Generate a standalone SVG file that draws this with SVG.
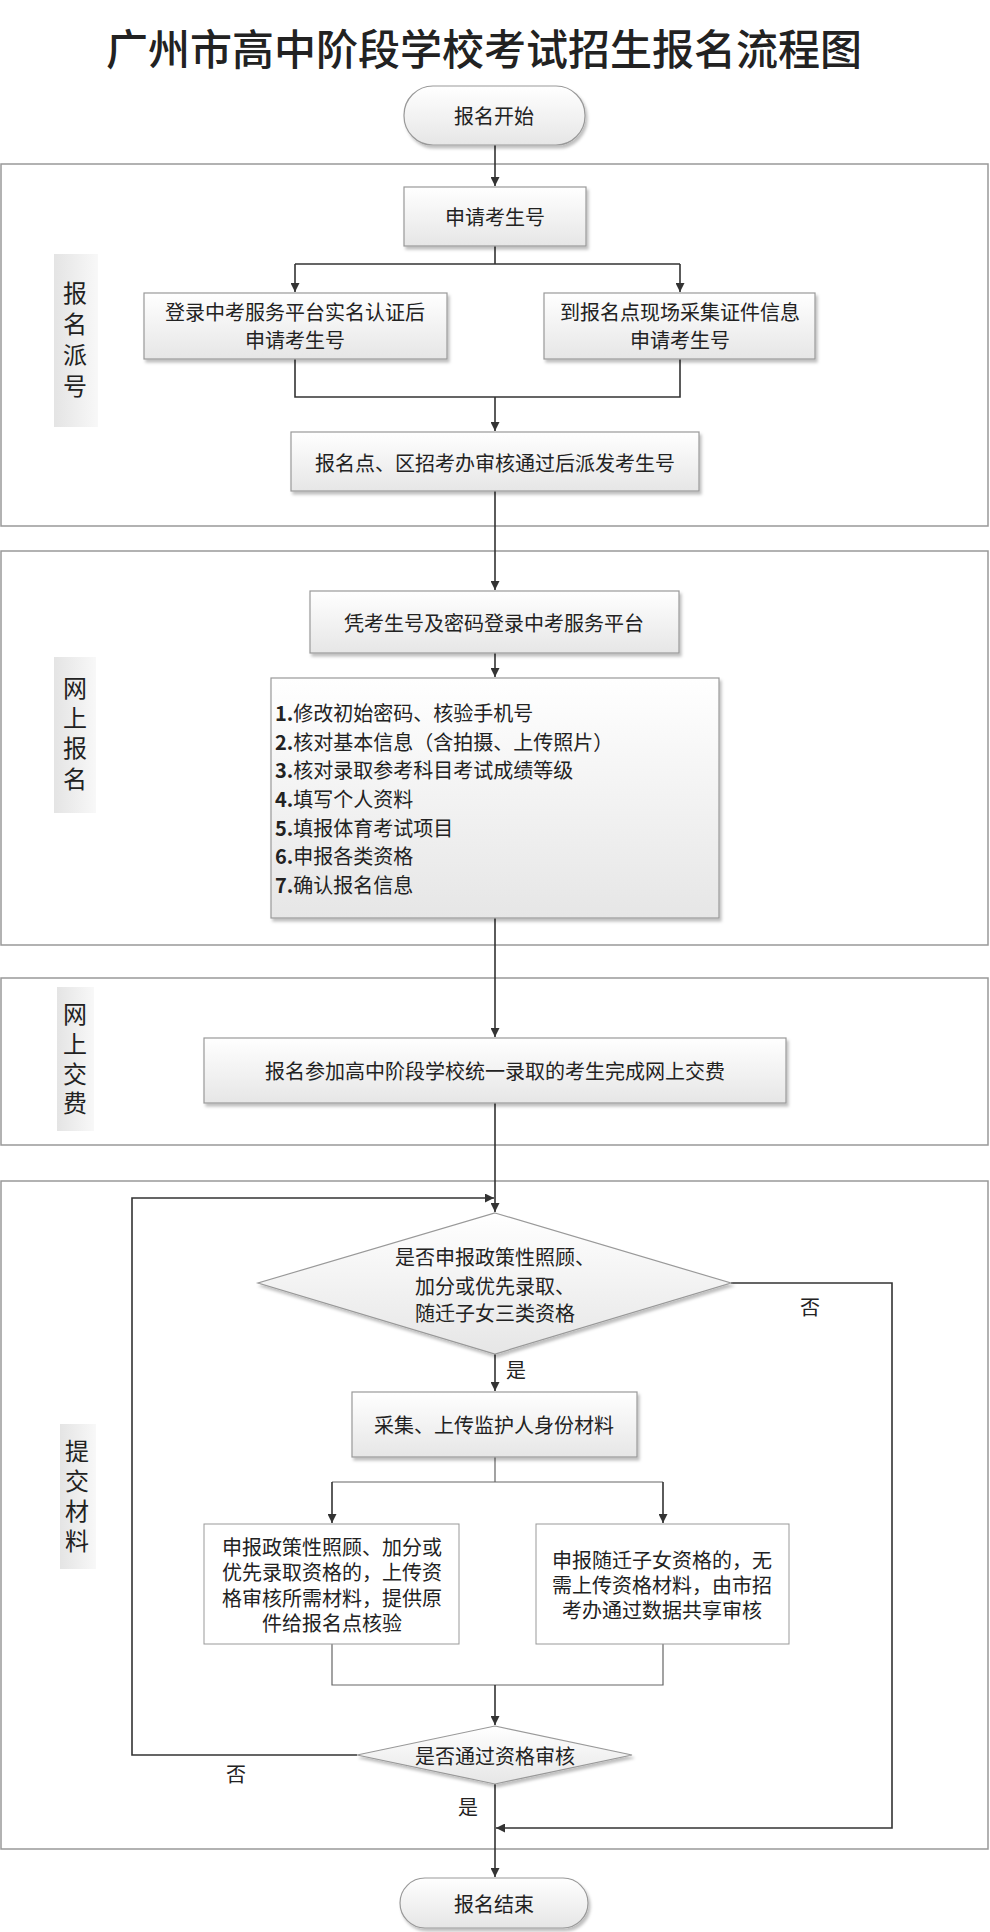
<svg xmlns="http://www.w3.org/2000/svg" width="990" height="1932" viewBox="0 0 990 1932">
<defs>
<linearGradient id="g" x1="0" y1="0" x2="0" y2="1"><stop offset="0" stop-color="#ffffff"/><stop offset="1" stop-color="#e6e6e6"/></linearGradient>
<linearGradient id="gl" x1="0" y1="0" x2="1" y2="0"><stop offset="0" stop-color="#e4e4e4"/><stop offset="1" stop-color="#f8f8f8"/></linearGradient>
<filter id="sh" x="-5%" y="-5%" width="115%" height="125%"><feDropShadow dx="2" dy="3" stdDeviation="1.5" flood-color="#000" flood-opacity="0.25"/></filter>
<marker id="a" viewBox="0 0 10 10" refX="10" refY="5" markerWidth="9" markerHeight="9" markerUnits="userSpaceOnUse" orient="auto"><path d="M0,0 L10,5 L0,10 z" fill="#333"/></marker>
<style>
text{font-family:"Noto Sans CJK SC","Noto Sans",sans-serif;fill:#222;}
.t{font-size:20px;text-anchor:middle;dominant-baseline:central;}
.l{font-size:20px;dominant-baseline:central;}
.lab{font-size:24px;text-anchor:middle;dominant-baseline:central;}
.box{fill:url(#g);stroke:#999;stroke-width:1.2;filter:url(#sh);}
.sec{fill:#fff;stroke:#999;stroke-width:1.5;}
.side{fill:url(#gl);}
.c{fill:none;stroke:#333;stroke-width:1.6;}
</style>
</defs>
<rect width="990" height="1932" fill="#fff"/>
<text x="484" y="46" style="font-size:42px;text-anchor:middle;dominant-baseline:central;font-weight:500">广州市高中阶段学校考试招生报名流程图</text>

<g id="sections">
<rect class="sec" x="1" y="164" width="987" height="362"/>
<rect class="sec" x="1" y="551" width="987" height="394"/>
<rect class="sec" x="1" y="978" width="987" height="167"/>
<rect class="sec" x="1" y="1181" width="987" height="668"/>
</g>
<g id="lane1"><rect class="side" x="54" y="254" width="44" height="173"/><text class="lab" x="75" y="291">报</text><text class="lab" x="75" y="322">名</text><text class="lab" x="75" y="353">派</text><text class="lab" x="75" y="384">号</text></g>
<g id="lane2"><rect class="side" x="54" y="657" width="42" height="156"/><text class="lab" x="75" y="686">网</text><text class="lab" x="75" y="716">上</text><text class="lab" x="75" y="746">报</text><text class="lab" x="75" y="777">名</text></g>
<g id="lane3"><rect class="side" x="57" y="987" width="37" height="144"/><text class="lab" x="75" y="1012">网</text><text class="lab" x="75" y="1042">上</text><text class="lab" x="75" y="1072">交</text><text class="lab" x="75" y="1101">费</text></g>
<g id="lane4"><rect class="side" x="60" y="1424" width="36" height="145"/><text class="lab" x="77" y="1449">提</text><text class="lab" x="77" y="1479">交</text><text class="lab" x="77" y="1509">材</text><text class="lab" x="77" y="1539">料</text></g>

<g id="connectors">
<path class="c" d="M495,145 V186" marker-end="url(#a)"/>
<path class="c" d="M495,246 V264 M295,264 H680"/>
<path class="c" d="M295,264 V292" marker-end="url(#a)"/>
<path class="c" d="M680,264 V292" marker-end="url(#a)"/>
<path class="c" d="M295,359 V397 H680 V359 M495,397 V431" marker-end="url(#a)"/>
<path class="c" d="M495,491 V590" marker-end="url(#a)"/>
<path class="c" d="M495,653 V677" marker-end="url(#a)"/>
<path class="c" d="M495,918 V1037" marker-end="url(#a)"/>
<path class="c" d="M495,1103 V1212" marker-end="url(#a)"/>
<path class="c" d="M495,1354 V1391" marker-end="url(#a)"/>
<path class="c" d="M495,1457 V1482 M332,1482 H663" style="stroke:#666;stroke-width:1.2"/>
<path class="c" d="M332,1482 V1523" marker-end="url(#a)"/>
<path class="c" d="M663,1482 V1523" marker-end="url(#a)"/>
<path class="c" d="M332,1644 V1685 H663 V1644" style="stroke:#666;stroke-width:1.2"/>
<path class="c" d="M495,1685 V1725" marker-end="url(#a)"/>
<path class="c" d="M357,1755 H132 V1198 H494" marker-end="url(#a)"/>
<path class="c" d="M731,1283 H892 V1828 H496" marker-end="url(#a)"/>
<path class="c" d="M495,1784 V1877" marker-end="url(#a)"/>
<text class="t" x="810" y="1306">否</text>
<text class="t" x="516" y="1369">是</text>
<text class="t" x="236" y="1773">否</text>
<text class="t" x="468" y="1806">是</text>
</g>

<g id="start"><rect class="box" x="404" y="86" width="181" height="59" rx="29"/><text class="t" x="494" y="115">报名开始</text></g>
<g id="apply"><rect class="box" x="404" y="187" width="182" height="59"/><text class="t" x="495" y="216">申请考生号</text></g>
<g id="online"><rect class="box" x="144" y="293" width="303" height="66"/><text class="t" x="295" y="311">登录中考服务平台实名认证后</text><text class="t" x="295" y="339">申请考生号</text></g>
<g id="onsite"><rect class="box" x="544" y="293" width="271" height="66"/><text class="t" x="680" y="311">到报名点现场采集证件信息</text><text class="t" x="680" y="339">申请考生号</text></g>
<g id="assign"><rect class="box" x="291" y="432" width="408" height="59"/><text class="t" x="495" y="462">报名点、区招考办审核通过后派发考生号</text></g>
<g id="login"><rect class="box" x="310" y="591" width="369" height="62"/><text class="t" x="494" y="622">凭考生号及密码登录中考服务平台</text></g>
<g id="steps"><rect class="box" x="271" y="678" width="448" height="240"/>
<text class="l" x="275" y="712"><tspan font-weight="bold">1.</tspan>修改初始密码、核验手机号</text>
<text class="l" x="275" y="741"><tspan font-weight="bold">2.</tspan>核对基本信息（含拍摄、上传照片）</text>
<text class="l" x="275" y="769"><tspan font-weight="bold">3.</tspan>核对录取参考科目考试成绩等级</text>
<text class="l" x="275" y="798"><tspan font-weight="bold">4.</tspan>填写个人资料</text>
<text class="l" x="275" y="827"><tspan font-weight="bold">5.</tspan>填报体育考试项目</text>
<text class="l" x="275" y="855"><tspan font-weight="bold">6.</tspan>申报各类资格</text>
<text class="l" x="275" y="884"><tspan font-weight="bold">7.</tspan>确认报名信息</text></g>
<g id="pay"><rect class="box" x="204" y="1038" width="582" height="65"/><text class="t" x="495" y="1070">报名参加高中阶段学校统一录取的考生完成网上交费</text></g>
<g id="d1"><polygon class="box" points="495,1213 731,1283 495,1354 258,1283"/><text class="t" x="495" y="1256">是否申报政策性照顾、</text><text class="t" x="495" y="1285">加分或优先录取、</text><text class="t" x="495" y="1312">随迁子女三类资格</text></g>
<g id="collect"><rect class="box" x="352" y="1392" width="285" height="65"/><text class="t" x="494" y="1424">采集、上传监护人身份材料</text></g>
<g id="policy"><rect x="204" y="1524" width="255" height="120" fill="#fff" stroke="#999"/><text class="t" x="332" y="1546">申报政策性照顾、加分或</text><text class="t" x="332" y="1571">优先录取资格的，上传资</text><text class="t" x="332" y="1597">格审核所需材料，提供原</text><text class="t" x="332" y="1622">件给报名点核验</text></g>
<g id="migrant"><rect x="536" y="1524" width="253" height="120" fill="#fff" stroke="#999"/><text class="t" x="662" y="1559">申报随迁子女资格的，无</text><text class="t" x="662" y="1584">需上传资格材料，由市招</text><text class="t" x="662" y="1609">考办通过数据共享审核</text></g>
<g id="d2"><polygon class="box" points="495,1726 632,1755 495,1784 357,1755"/><text class="t" x="495" y="1755">是否通过资格审核</text></g>
<g id="end"><rect class="box" x="400" y="1878" width="188" height="50" rx="25"/><text class="t" x="494" y="1903">报名结束</text></g>
</svg>
